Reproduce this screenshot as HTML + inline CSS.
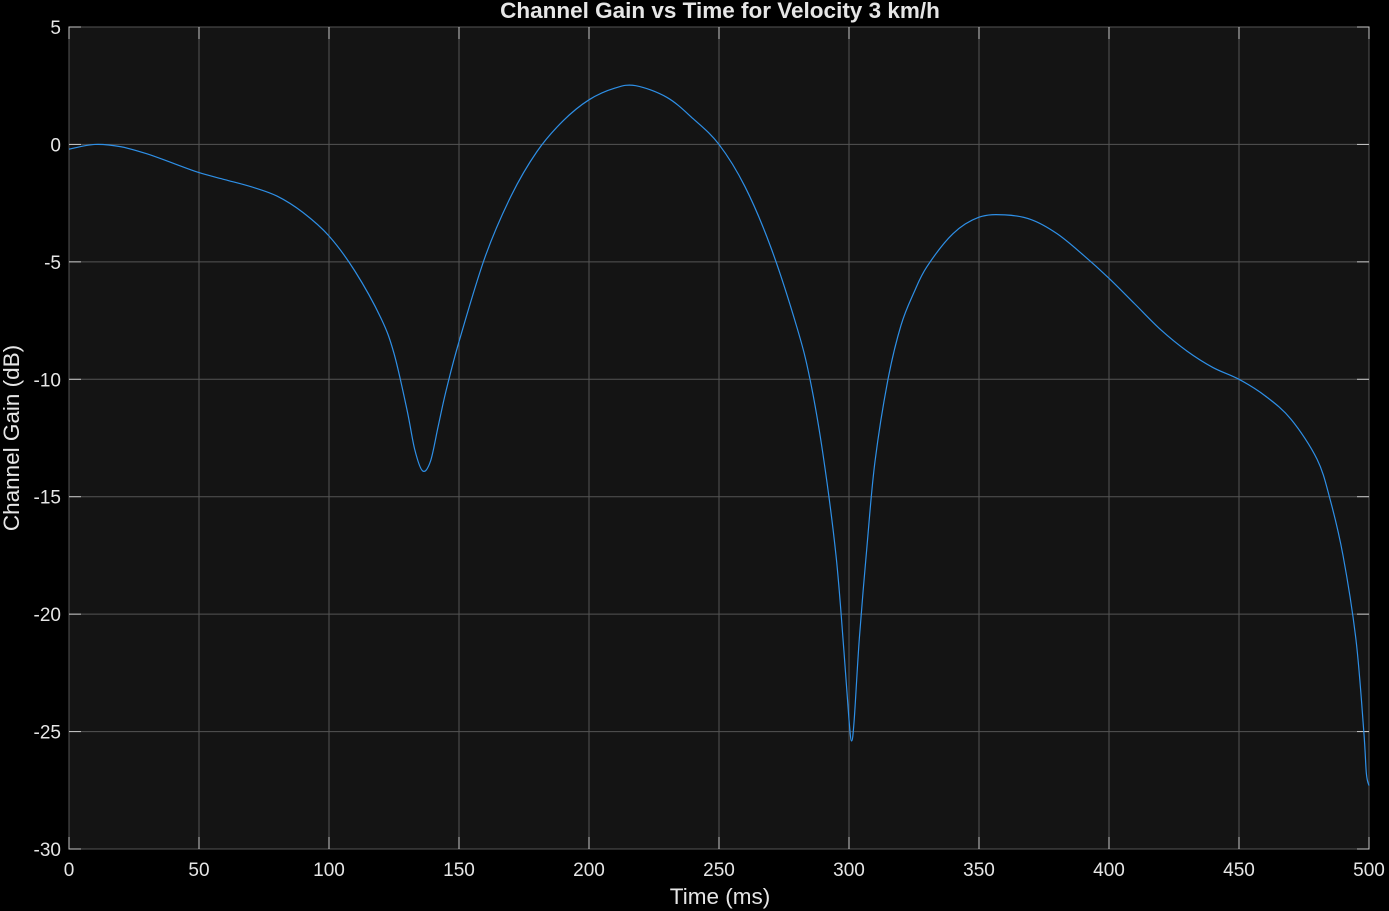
<!DOCTYPE html>
<html><head><meta charset="utf-8">
<style>
html,body{margin:0;padding:0;background:#000;}
svg{display:block;font-family:"Liberation Sans",sans-serif;}
</style></head>
<body>
<svg id="chart" width="1389" height="911" viewBox="0 0 1389 911" xmlns="http://www.w3.org/2000/svg">
<rect x="0" y="0" width="1389" height="911" fill="#000"/>
<rect x="69" y="27" width="1300" height="822" fill="#141414" stroke="#c8c8c8" stroke-width="1"/>
<g id="grid"></g>
<g id="ticks"></g>
<path id="series" fill="none" stroke="#2e8fe6" stroke-width="1.2"/>
<text x="720" y="18" text-anchor="middle" font-size="22.5" font-weight="bold" fill="#e6e6e6">Channel Gain vs Time for Velocity 3 km/h</text>
<text x="720" y="904" text-anchor="middle" font-size="22.5" fill="#e6e6e6">Time (ms)</text>
<text transform="translate(19,438) rotate(-90)" text-anchor="middle" font-size="22.5" fill="#e6e6e6">Channel Gain (dB)</text>
</svg>
<script>
const times=[0,10,20,30,40,50,60,70,80,90,100,110,120,125,130,133,136,139,142,145,150,160,170,180,190,200,210,218,230,240,250,260,270,280,285,290,295,298,300,301,302,304,307,310,315,320,325,330,340,350,360,370,380,390,400,410,420,430,440,450,460,470,480,485,490,495,498,499,500];
const gains=[-0.2,0.0,-0.1,-0.4,-0.8,-1.2,-1.5,-1.8,-2.2,-2.9,-3.9,-5.4,-7.4,-8.9,-11.3,-13.0,-13.9,-13.5,-12.0,-10.5,-8.4,-4.8,-2.2,-0.3,1.0,1.9,2.4,2.5,2.0,1.1,0.0,-1.8,-4.4,-7.8,-10.0,-13.2,-17.5,-21.5,-24.5,-25.4,-24.5,-21,-17,-13.5,-10.0,-7.7,-6.3,-5.2,-3.8,-3.1,-3.0,-3.2,-3.8,-4.7,-5.7,-6.8,-7.9,-8.8,-9.5,-10.0,-10.7,-11.7,-13.4,-15.1,-17.5,-21.1,-25.0,-26.8,-27.3];
const xTicks=[0,50,100,150,200,250,300,350,400,450,500];
const yTicks=[5,0,-5,-10,-15,-20,-25,-30];
const X0=69,X1=1369,Y0=27,Y1=849,xMin=0,xMax=500,yMin=-30,yMax=5;
const sx=v=>X0+(v-xMin)/(xMax-xMin)*(X1-X0);
const sy=v=>Y1-(v-yMin)/(yMax-yMin)*(Y1-Y0);
const NS="http://www.w3.org/2000/svg";
const grid=document.getElementById('grid'),ticks=document.getElementById('ticks');
function mk(t,a,p){const e=document.createElementNS(NS,t);for(const k in a)e.setAttribute(k,a[k]);p.appendChild(e);return e;}
xTicks.forEach(v=>{
  const x=sx(v);
  const g=mk('line',{x1:x,x2:x,y1:Y0,y2:Y1,stroke:'#555','stroke-width':1},grid);
  
  
  mk('line',{x1:x,x2:x,y1:Y1,y2:Y1-12,stroke:'#c8c8c8'},ticks);
  mk('line',{x1:x,x2:x,y1:Y0,y2:Y0+12,stroke:'#c8c8c8'},ticks);
  const t=mk('text',{x:x,y:876,'text-anchor':'middle','font-size':19,fill:'#e6e6e6'},ticks);
  t.textContent=v;
  
  
});
yTicks.forEach(v=>{
  const y=sy(v);
  const g=mk('line',{x1:X0,x2:X1,y1:y,y2:y,stroke:'#555','stroke-width':1},grid);
  
  
  mk('line',{x1:X0,x2:X0+12,y1:y,y2:y,stroke:'#c8c8c8'},ticks);
  mk('line',{x1:X1,x2:X1-12,y1:y,y2:y,stroke:'#c8c8c8'},ticks);
  const t=mk('text',{x:61,y:y+7,'text-anchor':'end','font-size':19,fill:'#e6e6e6'},ticks);
  t.textContent=v;
  
  
});
const pts=times.map((t,i)=>[sx(t),sy(gains[i])]);
let d='M'+pts[0][0]+','+pts[0][1];
for(let i=0;i<pts.length-1;i++){
  const p0=pts[Math.max(0,i-1)],p1=pts[i],p2=pts[i+1],p3=pts[Math.min(pts.length-1,i+2)];
  const c1=[p1[0]+(p2[0]-p0[0])/6,p1[1]+(p2[1]-p0[1])/6];
  const c2=[p2[0]-(p3[0]-p1[0])/6,p2[1]-(p3[1]-p1[1])/6];
  d+=` C${c1[0]},${c1[1]} ${c2[0]},${c2[1]} ${p2[0]},${p2[1]}`;
}
document.getElementById('series').setAttribute('d',d);
</script>
</body></html>
